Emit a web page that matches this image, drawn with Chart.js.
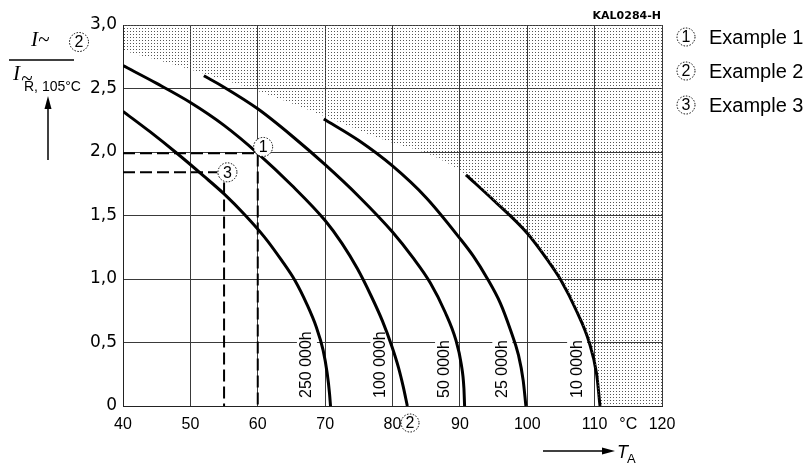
<!DOCTYPE html>
<html>
<head>
<meta charset="utf-8">
<script src="https://cdn.jsdelivr.net/npm/chart.js@4"></script>
<style>
  html, body { margin: 0; padding: 0; background: #fff; }
  canvas { display: block; }
</style>
</head>
<body>
<canvas id="c" width="810" height="463"></canvas>
<script>
// life curves, [T_A in °C, I~/I~R]
const life250k = [[40,2.32],[44,2.16],[48,1.99],[52,1.81],[55,1.67],[58,1.51],[61,1.33],[63.5,1.15],[65.5,0.99],[67.3,0.80],[68.7,0.62],[69.7,0.44],[70.3,0.26],[70.65,0.1],[70.8,0]];
const life100k = [[40,2.68],[45,2.54],[50,2.39],[55,2.21],[60,1.99],[65,1.74],[70,1.46],[72.5,1.28],[74.8,1.08],[76.8,0.87],[78.5,0.67],[79.9,0.47],[80.9,0.3],[81.6,0.15],[82.2,0]];
const life50k  = [[52,2.60],[55,2.51],[60,2.34],[65,2.13],[70,1.90],[75,1.65],[80,1.37],[83,1.17],[85.6,0.97],[87.8,0.74],[89.4,0.52],[90.2,0.33],[90.6,0.14],[90.7,0]];
const life25k  = [[69.8,2.26],[75,2.09],[80,1.89],[85,1.64],[90,1.32],[92,1.18],[94,1.01],[96,0.81],[97.5,0.6],[98.7,0.4],[99.4,0.2],[99.8,0]];
const life10k  = [[90.9,1.82],[95,1.62],[100,1.36],[103,1.15],[105,0.99],[107.3,0.75],[109.2,0.5],[110.3,0.25],[110.8,0]];

// upper edge of the not permitted (dotted) area, continues along the 10 000h curve
const limitEdge = [[40,2.80],[50,2.65],[60,2.48],[70,2.28],[79,2.09],[86,1.97]];
const limitEnd = [[120,0]];

// examples
const ex1Line = [[40,1.99],[60,1.99],[60,0]];
const ex3HLine = [[40,1.84],[54,1.84]];
const ex3VLine = [[55,1.76],[55,0]];
const ex1Mark = [60.8, 2.04];
const ex3Mark = [55.5, 1.84];
const ex2MarkX = 82.6;

const curveLabels = ['250 000h', '100 000h', '50 000h', '25 000h', '10 000h'];
const curveLabelX = [67.3, 78.2, 87.8, 96.3, 107.4];
const legendLabels = ['Example 1', 'Example 2', 'Example 3'];

const xy = arr => arr.map(p => ({ x: p[0], y: p[1] }));

// dot pattern for the shaded area
const tile = document.createElement('canvas');
tile.width = 3; tile.height = 3;
const tctx = tile.getContext('2d');
tctx.fillStyle = '#555';
tctx.fillRect(1, 1, 1, 1);
const dots = tctx.createPattern(tile, 'repeat');

function circled(ctx, x, y, r, txt, size) {
    ctx.save();
    ctx.setLineDash([1.5, 1.5]);
    ctx.lineWidth = 1;
    ctx.strokeStyle = '#000';
    ctx.fillStyle = '#fff';
    ctx.beginPath();
    ctx.arc(x, y, r, 0, Math.PI * 2);
    ctx.fill();
    ctx.stroke();
    ctx.setLineDash([]);
    ctx.fillStyle = '#000';
    ctx.font = size + 'px "Liberation Sans"';
    ctx.textAlign = 'center';
    ctx.textBaseline = 'middle';
    ctx.fillText(txt, x, y + 1);
    ctx.restore();
}

function arrowHead(ctx, x, y, dir) {
    ctx.beginPath();
    if (dir === 'up') {
        ctx.moveTo(x, y); ctx.lineTo(x - 3.5, y + 13); ctx.lineTo(x + 3.5, y + 13);
    } else {
        ctx.moveTo(x, y); ctx.lineTo(x - 13, y - 3.5); ctx.lineTo(x - 13, y + 3.5);
    }
    ctx.closePath();
    ctx.fill();
}

const annotations = {
    id: 'annotations',
    beforeDatasetsDraw(chart) {
        const { ctx, scales: { x } } = chart;
        ctx.save();
        // rotated life labels, on white so the grid stops around them
        ctx.font = '16px "Liberation Sans"';
        curveLabels.forEach((t, i) => {
            const px = x.getPixelForValue(curveLabelX[i]);
            const w = ctx.measureText(t).width;
            ctx.fillStyle = '#fff';
            ctx.fillRect(px - 10, 396 - w - 4, 20, w + 6);
            ctx.save();
            ctx.translate(px, 398);
            ctx.rotate(-Math.PI / 2);
            ctx.fillStyle = '#000';
            ctx.textAlign = 'left';
            ctx.textBaseline = 'middle';
            ctx.fillText(t, 0, 0);
            ctx.restore();
        });
        ctx.restore();
    },
    afterDatasetsDraw(chart) {
        const { ctx, scales: { x, y } } = chart;
        circled(ctx, x.getPixelForValue(ex1Mark[0]), y.getPixelForValue(ex1Mark[1]), 9.5, '1', 16);
        circled(ctx, x.getPixelForValue(ex3Mark[0]), y.getPixelForValue(ex3Mark[1]), 9.5, '3', 16);
        circled(ctx, x.getPixelForValue(ex2MarkX), y.bottom + 17, 9, '2', 16);
    },
    afterDraw(chart) {
        const { ctx, scales: { x } } = chart;
        ctx.save();
        ctx.fillStyle = '#000';
        ctx.strokeStyle = '#000';
        // drawing number
        ctx.font = 'bold 11px "DejaVu Sans"';
        ctx.textAlign = 'right';
        ctx.textBaseline = 'alphabetic';
        ctx.fillText('KAL0284-H', x.right - 1, 19);
        // legend
        legendLabels.forEach((t, i) => {
            const cy = 37 + i * 34;
            circled(ctx, 686, cy, 9, String(i + 1), 16);
            ctx.fillStyle = '#000';
            ctx.font = '20px "Liberation Sans"';
            ctx.textAlign = 'left';
            ctx.textBaseline = 'middle';
            ctx.fillText(t, 709, cy + 1);
        });
        // y title: I~ / I~R,105°C
        ctx.font = 'italic 21px "Liberation Serif"';
        ctx.textAlign = 'left';
        ctx.textBaseline = 'alphabetic';
        ctx.fillText('I~', 31, 46);
        ctx.lineWidth = 1.3;
        ctx.beginPath(); ctx.moveTo(9, 60); ctx.lineTo(74, 60); ctx.stroke();
        ctx.fillText('I', 13, 80);
        ctx.fillText('~', 21, 85);
        ctx.font = '14px "Liberation Sans"';
        ctx.fillText('R, 105\u00b0C', 24, 91);
        circled(ctx, 79, 42, 9.5, '2', 16);
        ctx.lineWidth = 1.5;
        ctx.beginPath(); ctx.moveTo(48, 160); ctx.lineTo(48, 105); ctx.stroke();
        arrowHead(ctx, 48, 96, 'up');
        // x title: -> T_A
        ctx.beginPath(); ctx.moveTo(543, 451); ctx.lineTo(605, 451); ctx.stroke();
        arrowHead(ctx, 615, 451, 'right');
        ctx.font = 'italic 18px "Liberation Sans"';
        ctx.fillText('T', 617, 458);
        ctx.font = '13px "Liberation Sans"';
        ctx.fillText('A', 627, 463);
        ctx.restore();
    }
};

const curveStyle = { borderColor: '#000', borderWidth: 3, pointRadius: 0, cubicInterpolationMode: 'monotone', fill: false };
const dashStyle = { borderColor: '#000', borderWidth: 2, pointRadius: 0, tension: 0, fill: false, borderDash: [12, 5] };

new Chart(document.getElementById('c'), {
    type: 'line',
    data: {
        datasets: [
            { data: xy(limitEdge.concat(life10k, limitEnd)), borderWidth: 0, pointRadius: 0, cubicInterpolationMode: 'monotone', fill: 'end', backgroundColor: dots },
            { data: xy(ex1Line), ...dashStyle },
            { data: xy(ex3HLine), ...dashStyle },
            { data: xy(ex3VLine), ...dashStyle },
            { data: xy(life250k), ...curveStyle },
            { data: xy(life100k), ...curveStyle },
            { data: xy(life50k), ...curveStyle },
            { data: xy(life25k), ...curveStyle },
            { data: xy(life10k), ...curveStyle }
        ]
    },
    options: {
        responsive: false,
        animation: false,
        devicePixelRatio: 1,
        layout: { padding: { top: 25, right: 148, left: 0, bottom: 0 } },
        plugins: { legend: { display: false }, tooltip: { enabled: false } },
        scales: {
            x: {
                type: 'linear',
                min: 40, max: 120,
                afterFit: s => { s.height = 57; },
                border: { color: '#222', width: 1 },
                grid: {
                    drawTicks: false,
                    color: c => (c.tick && c.tick.value % 10 === 0) ? '#3a3a3a' : 'rgba(0,0,0,0)'
                },
                ticks: {
                    stepSize: 5, autoSkip: false, maxRotation: 0, padding: 9,
                    color: '#000',
                    font: { family: '"Liberation Sans"', size: 16 },
                    callback: v => v % 10 === 0 ? String(v) : (v === 115 ? '\u00b0C' : '')
                }
            },
            y: {
                min: 0, max: 3,
                afterFit: s => { s.width = 123; },
                border: { color: '#222', width: 1 },
                grid: { drawTicks: false, color: '#3a3a3a' },
                ticks: {
                    stepSize: 0.5, padding: 6,
                    color: '#000',
                    font: { family: '"DejaVu Sans"', size: 17 },
                    callback: v => v === 0 ? '0' : v.toFixed(1).replace('.', ',')
                }
            }
        }
    },
    plugins: [annotations]
});
</script>
</body>
</html>
